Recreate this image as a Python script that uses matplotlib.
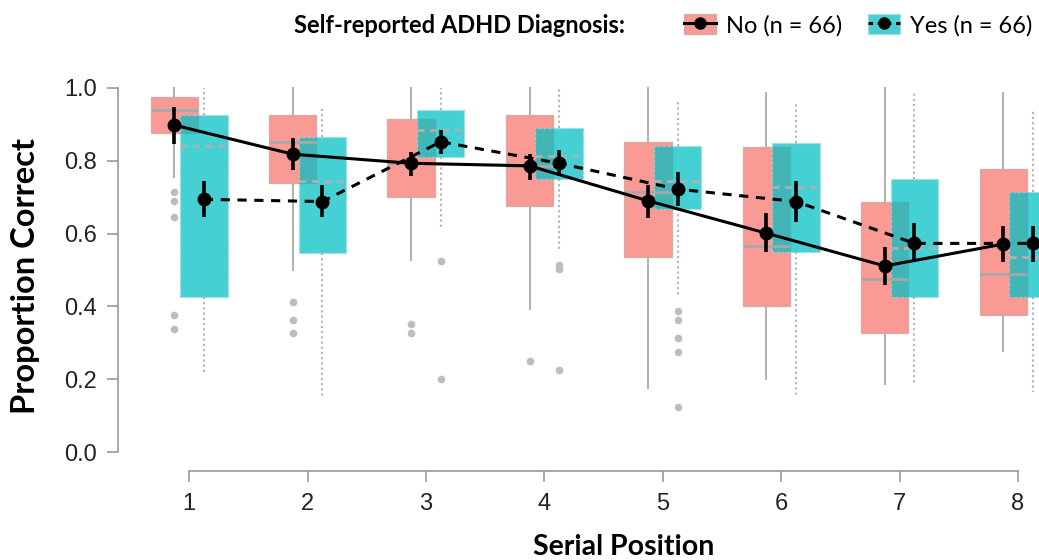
import numpy as np
import matplotlib
matplotlib.use("Agg")
import matplotlib.pyplot as plt
from matplotlib.patches import Patch
from matplotlib.lines import Line2D
from matplotlib.legend_handler import HandlerTuple

# serial positions
positions = [1, 2, 3, 4, 5, 6, 7, 8]

# box summaries, no ADHD diagnosis
no_q1 = [0.876, 0.738, 0.701, 0.677, 0.537, 0.401, 0.326, 0.376]
no_med = [0.940, 0.852, 0.793, 0.786, 0.715, 0.566, 0.475, 0.488]
no_q3 = [0.976, 0.926, 0.914, 0.926, 0.852, 0.839, 0.688, 0.777]
no_lo = [0.756, 0.500, 0.527, 0.392, 0.177, 0.200, 0.187, 0.277]
no_hi = [1.0, 1.0, 1.0, 1.0, 1.0, 0.987, 1.0, 0.987]
no_fliers = [[0.714, 0.690, 0.646, 0.376, 0.338], [0.413, 0.363, 0.327],
             [0.351, 0.326], [0.251], [], [], [], []]

# box summaries, ADHD diagnosis
yes_q1 = [0.425, 0.546, 0.809, 0.749, 0.667, 0.550, 0.427, 0.427]
yes_med = [0.841, 0.745, 0.885, 0.813, 0.743, 0.729, 0.561, 0.537]
yes_q3 = [0.926, 0.864, 0.938, 0.889, 0.841, 0.850, 0.750, 0.715]
yes_lo = [0.211, 0.151, 0.614, 0.557, 0.429, 0.154, 0.187, 0.166]
yes_hi = [1.0, 0.95, 1.0, 1.0, 0.967, 0.96, 0.99, 0.94]
yes_fliers = [[], [], [0.526, 0.200], [0.514, 0.503, 0.225],
              [0.388, 0.363, 0.312, 0.276, 0.125], [], [], []]

# means with error bars
no_mean = [0.898, 0.818, 0.793, 0.786, 0.690, 0.601, 0.511, 0.571]
no_err_lo = [0.846, 0.775, 0.758, 0.747, 0.642, 0.549, 0.459, 0.523]
no_err_hi = [0.948, 0.862, 0.825, 0.819, 0.733, 0.656, 0.564, 0.621]
yes_mean = [0.694, 0.688, 0.852, 0.793, 0.722, 0.688, 0.573, 0.573]
yes_err_lo = [0.645, 0.646, 0.819, 0.758, 0.676, 0.633, 0.523, 0.523]
yes_err_hi = [0.743, 0.733, 0.885, 0.830, 0.770, 0.743, 0.628, 0.621]

salmon = "#F8766D"
teal = "#00BFC4"
grey = "#b3b3b3"


def make_stats(q1, med, q3, lo, hi, fliers):
    return [dict(q1=a, med=b, q3=c, whislo=d, whishi=e, fliers=f)
            for a, b, c, d, e, f in zip(q1, med, q3, lo, hi, fliers)]


fig = plt.figure(figsize=(10.39, 5.6), dpi=100)
ax = fig.add_axes([0.1136, 0.159, 0.8864, 0.710])

pos = np.array(positions, dtype=float)
off = 0.125

# ---- boxes ----
ax.bxp(make_stats(no_q1, no_med, no_q3, no_lo, no_hi, no_fliers),
       positions=pos - off, widths=0.4, patch_artist=True, showcaps=False,
       boxprops=dict(facecolor=salmon, alpha=0.73, edgecolor="#c9a09c", linewidth=1),
       medianprops=dict(color="#a8a8a8", linewidth=2),
       whiskerprops=dict(color=grey, linewidth=1.5),
       flierprops=dict(marker="o", markersize=5.5, markerfacecolor="#bdbdbd",
                       markeredgecolor="none"),
       manage_ticks=False)
ax.bxp(make_stats(yes_q1, yes_med, yes_q3, yes_lo, yes_hi, yes_fliers),
       positions=pos + off, widths=0.4, patch_artist=True, showcaps=False,
       boxprops=dict(facecolor=teal, alpha=0.73, edgecolor="#9fd6d8", linewidth=1,
                     linestyle=(0, (2, 1.5))),
       medianprops=dict(color="#b0b0b0", linewidth=2, linestyle=(0, (2.5, 2))),
       whiskerprops=dict(color=grey, linewidth=1.5, linestyle=(0, (1, 1.5))),
       flierprops=dict(marker="o", markersize=5.5, markerfacecolor="#bdbdbd",
                       markeredgecolor="none"),
       manage_ticks=False)

# ---- means ----
no_m = np.array(no_mean)
yes_m = np.array(yes_mean)
ax.errorbar(pos - off, no_m, yerr=[no_m - np.array(no_err_lo), np.array(no_err_hi) - no_m],
            color="black", linewidth=2.2, elinewidth=2.6, capsize=0,
            marker="o", markersize=9, zorder=5)
ax.errorbar(pos + off, yes_m, yerr=[yes_m - np.array(yes_err_lo), np.array(yes_err_hi) - yes_m],
            color="black", linewidth=2.2, linestyle=(0, (3, 2.5)), elinewidth=2.6,
            capsize=0, marker="o", markersize=9, zorder=5)

# ---- axes styling (R-like detached axes) ----
ax.set_xlim(0.40, 8.177)
ax.set_ylim(-0.052, 1.04)
for s in ["top", "right"]:
    ax.spines[s].set_visible(False)
ax.spines["left"].set_bounds(0, 1)
ax.spines["bottom"].set_bounds(1, 8)
for s in ["left", "bottom"]:
    ax.spines[s].set_color("#999999")
    ax.spines[s].set_linewidth(1.2)
ax.set_xticks(positions)
ax.set_yticks([0.0, 0.2, 0.4, 0.6, 0.8, 1.0])
ax.set_yticklabels(["0.0", "0.2", "0.4", "0.6", "0.8", "1.0"])
ax.tick_params(axis="both", length=8, width=1.2, color="#999999",
               labelsize=17, labelcolor="#222222")
ax.tick_params(axis="y", pad=7)
ax.tick_params(axis="x", pad=8)
for lab in ax.get_xticklabels() + ax.get_yticklabels():
    lab.set_fontfamily("Liberation Sans")

fig.text(0.025, 0.508, "Proportion Correct", rotation=90, ha="center", va="center",
         fontsize=23.5, fontweight="bold", family="Lato")
fig.text(0.600, 0.009, "Serial Position", ha="center", va="baseline",
         fontsize=20.5, fontweight="bold", family="Lato")

# ---- legend ----
fig.text(0.442, 0.941, "Self-reported ADHD Diagnosis:", ha="center", va="baseline",
         fontsize=17, fontweight="bold", family="Lato")
h_no = (Patch(facecolor=salmon, alpha=0.73, edgecolor="#c9a09c"),
        Line2D([], [], color="black", linewidth=2.2, marker="o", markersize=8))
h_yes = (Patch(facecolor=teal, alpha=0.73, edgecolor="#9fd6d8", linestyle=(0, (2, 1.5))),
         Line2D([], [], color="black", linewidth=2.2, linestyle=(0, (1.5, 1.5)),
                marker="o", markersize=8))
fig.legend([h_no, h_yes], ["No (n = 66)", "Yes (n = 66)"],
           handler_map={tuple: HandlerTuple(ndivide=1, pad=0)},
           loc="center right", bbox_to_anchor=(0.998, 0.955), ncol=2, frameon=False,
           prop=dict(family="Lato", size=17), handlelength=1.36, handleheight=0.93,
           columnspacing=1.1, handletextpad=0.42, borderaxespad=0.0, borderpad=0.2)

fig.savefig("out.png", dpi=100)
